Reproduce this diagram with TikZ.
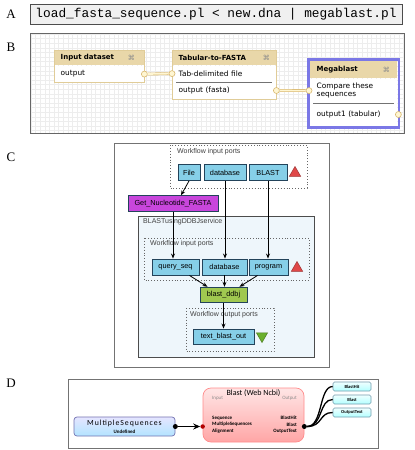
\documentclass[tikz,border=0pt]{standalone}
\usepackage{fontspec}
\setmainfont{Liberation Serif}
\setmonofont{Liberation Mono}
\newfontfamily\galfont{DejaVu Sans}
\newfontfamily\tavfont{Liberation Sans}
\newfontfamily\calfont[LetterSpace=12]{Carlito}
\newfontfamily\calplain{Carlito}
\usetikzlibrary{positioning,fit,shapes.geometric,arrows.meta}

\definecolor{galtan}{HTML}{E9D7A9}
\definecolor{galedge}{HTML}{E0CC98}
\definecolor{galpale}{HTML}{FFF6D2}
\definecolor{galport}{HTML}{D9B870}
\definecolor{galsel}{HTML}{7B78E6}
\definecolor{gridgrey}{HTML}{EDEDED}
\definecolor{tavport}{HTML}{86CFE8}
\definecolor{tavedge}{HTML}{23435A}
\definecolor{tavpurple}{HTML}{C846DC}
\definecolor{tavgreen}{HTML}{A0C850}
\definecolor{tavpanel}{HTML}{EEF6FB}
\definecolor{tavred}{HTML}{E04848}
\definecolor{tavtri}{HTML}{6AB02C}

\tikzset{
  panellabel/.style={font=\fontsize{13}{15}\selectfont, inner sep=0pt},
  cmdbox/.style={draw=black!70, fill=black!6, line width=0.8pt, inner sep=0pt,
    font=\ttfamily\fontsize{12.8}{14}\selectfont},
  boxframe/.style={draw=black!60, line width=1pt},
  gridline/.style={draw=gridgrey, line width=0.35pt},
  galhead/.style={fill=galtan, anchor=north west, inner xsep=6.5pt, inner ysep=0pt,
    align=left, font=\galfont\bfseries\fontsize{7}{8.5}\selectfont},
  galrow/.style={fill=white, inner xsep=6.5pt, inner ysep=0pt, align=left,
    font=\galfont\fontsize{7.4}{8.6}\selectfont},
  galclose/.style={text=black!45, inner sep=0pt, font=\galfont\fontsize{7}{8}\selectfont},
  galbox/.style={draw=galedge, line width=0.8pt},
  galsep/.style={draw=black!55, line width=0.6pt},
  galsel/.style={draw=galsel, line width=2.8pt, inner sep=1.5pt},
  galport/.style={circle, draw=galport, fill=galpale, minimum size=6pt, inner sep=0pt, line width=0.6pt},
  pipe/.style={draw=galport, double=galpale, double distance=1.6pt, line width=0.6pt},
  cframe/.style={draw=black!55, fill=white, line width=1pt},
  nestframe/.style={draw=black!70, fill=tavpanel, line width=0.6pt},
  portgroup/.style={draw=black!60, dotted, line width=0.9pt},
  grouplabel/.style={anchor=west, inner sep=0pt, text=black!75, font=\tavfont\fontsize{7}{8}\selectfont},
  wfport/.style={draw=tavedge, fill=tavport, line width=0.9pt, inner sep=0pt,
    minimum height=16pt, font=\tavfont\fontsize{7.3}{8}\selectfont},
  wfproc/.style={draw=tavedge, line width=0.9pt, inner sep=0pt,
    minimum height=15.5pt, font=\tavfont\fontsize{7.3}{8}\selectfont},
  redtri/.style={regular polygon, regular polygon sides=3, draw=tavred!70!black, fill=tavred,
    minimum size=13pt, inner sep=0pt, line width=0.5pt},
  greentri/.style={regular polygon, regular polygon sides=3, shape border rotate=180,
    draw=tavtri!70!black, fill=tavtri, minimum size=13pt, inner sep=0pt, line width=0.5pt},
  tavarrow/.style={draw=black, line width=0.8pt, -{Stealth[length=5pt,width=4pt]}},
  dframe/.style={draw=black!55, fill=white, line width=0.8pt},
  msbox/.style={draw=blue!45!black!55, top color=blue!10, bottom color=blue!35!cyan!30,
    rounded corners=3pt, line width=0.7pt, inner sep=0pt},
  blastbox/.style={draw=red!45, top color=red!10, bottom color=red!35, rounded corners=8pt,
    line width=0.7pt, inner sep=0pt},
  outbox/.style={draw=cyan!50!black!70, top color=cyan!6, bottom color=cyan!30,
    rounded corners=1.5pt, line width=0.6pt, inner sep=0pt, minimum width=38pt,
    minimum height=9pt, font=\calplain\bfseries\fontsize{4.6}{5}\selectfont},
  dtitle/.style={inner sep=0pt, font=\calplain\fontsize{8}{9}\selectfont},
  mstitle/.style={inner sep=0pt, font=\calfont\fontsize{7.8}{9}\selectfont},
  iolabel/.style={inner sep=0pt, text=black!45, font=\calplain\fontsize{5}{6}\selectfont},
  plabel/.style={inner sep=0pt, font=\calplain\bfseries\fontsize{5}{6}\selectfont},
  srcdot/.style={circle, fill=black, minimum size=5pt, inner sep=0pt},
  indot/.style={circle, fill=red!70!black, minimum size=4.5pt, inner sep=0pt},
  dlink/.style={draw=black, line width=1.3pt, -{Stealth[length=7pt,width=6pt]}},
  dcurve/.style={draw=black, line width=1.3pt}
}

\begin{document}
\begin{tikzpicture}[x=1pt,y=-1pt]
\useasboundingbox (0,0) rectangle (415,450);

\node[panellabel] (labA) at (11,14) {A};
\node[cmdbox, minimum width=372pt, minimum height=20pt] (cmd) at (216,14)
  {load\_fasta\_sequence.pl < new.dna | megablast.pl};

\node[panellabel] (labB) at (11,47) {B};
\begin{scope}
  \clip (30,33) rectangle (404,133);
  \foreach \gx in {31,35.6,...,404} \draw[gridline] (\gx,33) -- (\gx,133);
  \foreach \gy in {34,38.6,...,133} \draw[gridline] (30,\gy) -- (404,\gy);
\end{scope}
\draw[boxframe] (30,33) rectangle (404,133);

\node[galhead, text width=77pt, minimum height=15pt] (inhead) at (54,50) {Input dataset};
\node[galrow, text width=77pt, minimum height=17pt, below=0pt of inhead] (inout) {output};
\draw[galbox] (inhead.north west) rectangle (inout.south east);
\node[galclose] (inx) at ([xshift=-13pt]inhead.east) {⌘};

\node[galhead, text width=91pt, minimum height=15pt] (tabhead) at (172,50) {Tabular-to-FASTA};
\node[galrow, text width=91pt, minimum height=16pt, below=0pt of tabhead] (tabin) {Tab-delimited file};
\node[galrow, text width=91pt, minimum height=17pt, below=0pt of tabin] (tabout) {output (fasta)};
\draw[galbox] (tabhead.north west) rectangle (tabout.south east);
\draw[galsep] ([xshift=4pt]tabin.south west) -- ([xshift=-4pt]tabin.south east);
\node[galclose] (tabx) at ([xshift=-10pt]tabhead.east) {⌘};

\node[galhead, text width=74pt, minimum height=17pt] (mghead) at (310,61) {Megablast};
\node[galrow, text width=74pt, minimum height=24pt, below=0pt of mghead] (mgin) {Compare these\\sequences};
\node[galrow, text width=74pt, minimum height=23pt, below=0pt of mgin] (mgout) {output1 (tabular)};
\draw[galsep] ([xshift=3pt]mgin.south west) -- ([xshift=-3pt]mgin.south east);
\node[galsel, fit=(mghead)(mgout)] (mgframe) {};
\node[galclose] (mgx) at ([xshift=-11pt]mghead.east) {⌘};

\node[galport] (inoutR) at (inout.east) {};
\node[galport] (tabinL) at (tabin.west) {};
\node[galport] (taboutR) at (tabout.east) {};
\node[galport] (mginL) at ([xshift=-1pt]mgin.west) {};
\node[galport] (mgoutR) at ([xshift=1pt]mgout.east) {};
\draw[pipe] (inoutR) -- (tabinL);
\draw[pipe] (taboutR) -- (mginL);

\node[panellabel] (labC) at (11,157) {C};
\draw[cframe] (114,143) rectangle (329,367);
\draw[portgroup] (170,145) rectangle (307,188);
\node[grouplabel] (toplbl) at (177,152) {Workflow input ports};
\node[wfport, minimum width=22pt] (file) at (189,172.5) {File};
\node[wfport, minimum width=42pt] (dbtop) at (225,172.5) {database};
\node[wfport, minimum width=38pt] (blastin) at (268,172.5) {BLAST};
\node[redtri] (toptri) at (295,173) {};
\node[wfproc, fill=tavpurple, minimum width=90pt] (getnuc) at (173,203.5) {Get\_Nucleotide\_FASTA};

\draw[nestframe] (138,216) rectangle (314,357);
\node[grouplabel] (nestlbl) at (143,222) {BLASTusingDDBJservice};
\draw[portgroup] (144,238) rectangle (309,280);
\node[grouplabel] (inlbl) at (150,244) {Workflow input ports};
\node[wfport, minimum width=47pt] (qseq) at (175.5,267) {query\_seq};
\node[wfport, minimum width=45pt] (dbin) at (224.5,267) {database};
\node[wfport, minimum width=39pt] (prog) at (268.5,267) {program};
\node[redtri] (intri) at (297,268) {};
\node[wfproc, fill=tavgreen, minimum width=47pt] (bddbj) at (223.5,295) {blast\_ddbj};
\draw[portgroup] (186,308) rectangle (274,351);
\node[grouplabel] (outlbl) at (190,315) {Workflow output ports};
\node[wfport, minimum width=61pt, minimum height=15pt] (tbout) at (223.5,336.5) {text\_blast\_out};
\node[greentri] (outtri) at (262,336) {};

\draw[tavarrow] (file.south) -- ([xshift=8pt]getnuc.north);
\draw[tavarrow] (getnuc.south) -- (getnuc.south |- qseq.north);
\draw[tavarrow] (dbtop.south) -- (dbtop.south |- dbin.north);
\draw[tavarrow] (blastin.south) -- (blastin.south |- prog.north);
\draw[tavarrow] ([xshift=14pt]qseq.south) -- ([xshift=-16pt]bddbj.north);
\draw[tavarrow] (dbin.south) -- (dbin.south |- bddbj.north);
\draw[tavarrow] ([xshift=-11pt]prog.south) -- ([xshift=16pt]bddbj.north);
\draw[tavarrow] (bddbj.south) -- (tbout.north);

\node[panellabel] (labD) at (11,383) {D};
\draw[dframe] (68,379) rectangle (378,448);
\node[msbox, minimum width=101pt, minimum height=19pt] (ms) at (124.5,426.5) {};
\node[mstitle] (mstitle) at (124.5,423.5) {MultipleSequences};
\node[plabel] (mssub) at (124.5,431.5) {Undefined};

\node[blastbox, minimum width=101pt, minimum height=54pt] (blast) at (253.5,415) {};
\node[dtitle] (btitle) at (253.5,393) {Blast (Web Ncbi)};
\node[iolabel, anchor=west] (inhdr) at (212,398.5) {Input};
\node[iolabel, anchor=east] (outhdr) at (297,398.5) {Output};
\node[plabel, anchor=west] (pseq) at (212,418) {Sequence};
\node[plabel, anchor=west] (pms) at (212,424.5) {MultipleSequences};
\node[plabel, anchor=west] (paln) at (212,431) {Alignment};
\node[plabel, anchor=east] (phit) at (297,418) {BlastHit};
\node[plabel, anchor=east] (pblast) at (297,424.5) {Blast};
\node[plabel, anchor=east] (ptext) at (297,431) {OutputText};

\node[outbox] (ohit) at (352,386.5) {BlastHit};
\node[outbox] (oblast) at (352,399.5) {Blast};
\node[outbox] (otext) at (352,412.5) {OutputText};

\node[srcdot] (msdot) at (ms.east) {};
\node[indot] (bindot) at (blast.west |- msdot) {};
\draw[dlink] (msdot) -- (bindot);
\node[srcdot] (boutdot) at (blast.east |- msdot) {};
\draw[dcurve] (boutdot.east) .. controls +(16,0) and +(-14,0) .. (ohit.west);
\draw[dcurve] (boutdot.east) .. controls +(16,0) and +(-14,0) .. (oblast.west);
\draw[dcurve] (boutdot.east) .. controls +(16,0) and +(-14,0) .. (otext.west);
\end{tikzpicture}
\end{document}
